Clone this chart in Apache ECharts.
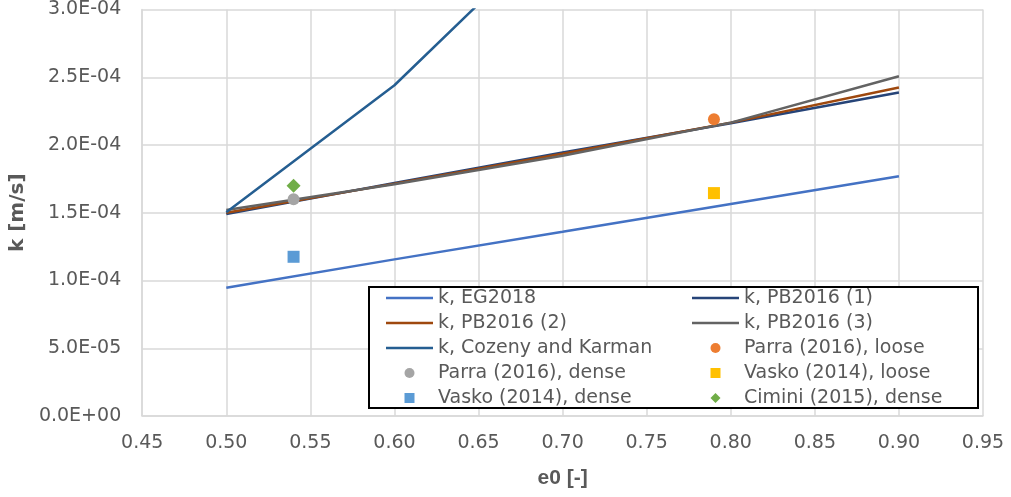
<!DOCTYPE html>
<html>
<head>
<meta charset="utf-8">
<script src="https://cdn.jsdelivr.net/npm/echarts@6/dist/echarts.min.js"></script>
<style>
  html, body { margin: 0; padding: 0; background: #fff; }
  #chart { width: 1011px; height: 497px; }
</style>
</head>
<body>
<div id="chart"></div>
<script>
// void ratio e0 at which the model curves are evaluated
const eValues = [0.5, 0.6, 0.7, 0.8, 0.9];
// permeability k [m/s] for each model
const kEG2018 = [9.46e-5, 1.156e-4, 1.359e-4, 1.565e-4, 1.77e-4];
const kPB1 = [1.49e-4, 1.72e-4, 1.945e-4, 2.16e-4, 2.387e-4];
const kPB2 = [1.50e-4, 1.715e-4, 1.935e-4, 2.165e-4, 2.424e-4];
const kPB3 = [1.52e-4, 1.71e-4, 1.92e-4, 2.165e-4, 2.507e-4];
const kCozeny = [1.504e-4, 2.441e-4, 3.64e-4, 5.13e-4, 6.93e-4];
// measured points [e0, k]
const parraLoose = [[0.79, 2.19e-4]];
const parraDense = [[0.54, 1.60e-4]];
const vaskoLoose = [[0.79, 1.645e-4]];
const vaskoDense = [[0.54, 1.175e-4]];
const ciminiDense = [[0.54, 1.70e-4]];

const FONT = 'DejaVu Sans';
const TXT = '#595959';

// legend icons (path icons keep their aspect ratio)
const ICON_LINE = 'path://M0,0L47,0L47,2.6L0,2.6Z';
const ICON_SQUARE = 'path://M0,0L1,0L1,1L0,1Z';
const ICON_DIAMOND = 'path://M1,0L2,1L1,2L0,1Z';

function pairs(xs, ys) {
    return xs.map((x, i) => [x, ys[i]]);
}

function lineSeries(name, ys, color) {
    return {
        name: name,
        type: 'line',
        data: pairs(eValues, ys),
        symbol: 'none',
        showSymbol: false,
        smooth: false,
        clip: true,
        lineStyle: { color: color, width: 2.5 },
        itemStyle: { color: color },
        z: 2
    };
}

function scatterSeries(name, data, color, symbol, size) {
    return {
        name: name,
        type: 'scatter',
        data: data,
        symbol: symbol,
        symbolSize: size,
        itemStyle: { color: color, opacity: 1 },
        z: 3
    };
}

const chart = echarts.init(document.getElementById('chart'));

const legendCommon = {
    orient: 'vertical',
    top: 288,
    padding: 0,
    itemGap: 5,
    itemWidth: 47,
    itemHeight: 10,
    z: 6,
    textStyle: { fontFamily: FONT, fontSize: 19, color: TXT, lineHeight: 20 }
};

chart.setOption({
    animation: false,
    backgroundColor: '#fff',
    grid: { left: 137, right: 28, top: 9, bottom: 81, containLabel: false },
    xAxis: {
        type: 'value',
        min: 0.45,
        max: 0.95,
        interval: 0.05,
        name: 'e0 [-]',
        nameLocation: 'middle',
        nameGap: 52,
        nameTextStyle: { fontFamily: 'Liberation Sans', fontWeight: 'bold', fontSize: 21, color: TXT },
        axisLine: { show: true, lineStyle: { color: '#d9d9d9', width: 1.5 } },
        axisTick: { show: false },
        axisLabel: {
            margin: 18,
            fontFamily: FONT, fontSize: 19, color: TXT,
            formatter: v => v.toFixed(2)
        },
        splitLine: { show: true, lineStyle: { color: '#d9d9d9', width: 1.5 } }
    },
    yAxis: {
        type: 'value',
        min: 0,
        max: 3e-4,
        interval: 5e-5,
        name: 'k [m/s]',
        nameLocation: 'middle',
        nameGap: 97,
        nameTextStyle: { fontFamily: FONT, fontWeight: 'bold', fontSize: 20, color: TXT },
        axisLine: { show: true, lineStyle: { color: '#d9d9d9', width: 1.5 } },
        axisTick: { show: false },
        axisLabel: {
            margin: 21,
            fontFamily: FONT, fontSize: 19, color: TXT,
            formatter: v => v.toExponential(1).toUpperCase().replace(/E([+-])(\d)$/, 'E$10$2')
        },
        splitLine: { show: true, lineStyle: { color: '#d9d9d9', width: 1.5 } }
    },
    graphic: [{
        type: 'rect',
        shape: { x: 369, y: 287, width: 609, height: 121 },
        style: { fill: '#fff', stroke: '#000', lineWidth: 2 },
        z: 5
    }],
    legend: [
        Object.assign({}, legendCommon, {
            left: 386,
            data: [
                { name: 'k, EG2018', icon: ICON_LINE },
                { name: 'k, PB2016 (2)', icon: ICON_LINE },
                { name: 'k, Cozeny and Karman', icon: ICON_LINE },
                { name: 'Parra (2016), dense', icon: 'circle' },
                { name: 'Vasko (2014), dense', icon: ICON_SQUARE }
            ]
        }),
        Object.assign({}, legendCommon, {
            left: 692,
            data: [
                { name: 'k, PB2016 (1)', icon: ICON_LINE },
                { name: 'k, PB2016 (3)', icon: ICON_LINE },
                { name: 'Parra (2016), loose', icon: 'circle' },
                { name: 'Vasko (2014), loose', icon: ICON_SQUARE },
                { name: 'Cimini (2015), dense', icon: ICON_DIAMOND }
            ]
        })
    ],
    series: [
        lineSeries('k, EG2018', kEG2018, '#4472C4'),
        lineSeries('k, PB2016 (1)', kPB1, '#264478'),
        lineSeries('k, PB2016 (2)', kPB2, '#9E480E'),
        lineSeries('k, PB2016 (3)', kPB3, '#636363'),
        lineSeries('k, Cozeny and Karman', kCozeny, '#255E91'),
        scatterSeries('Parra (2016), loose', parraLoose, '#ED7D31', 'circle', 12),
        scatterSeries('Parra (2016), dense', parraDense, '#A5A5A5', 'circle', 12),
        scatterSeries('Vasko (2014), loose', vaskoLoose, '#FFC000', 'rect', 12),
        scatterSeries('Vasko (2014), dense', vaskoDense, '#5B9BD5', 'rect', 12),
        scatterSeries('Cimini (2015), dense', ciminiDense, '#70AD47', 'diamond', 14)
    ]
});
</script>
</body>
</html>
